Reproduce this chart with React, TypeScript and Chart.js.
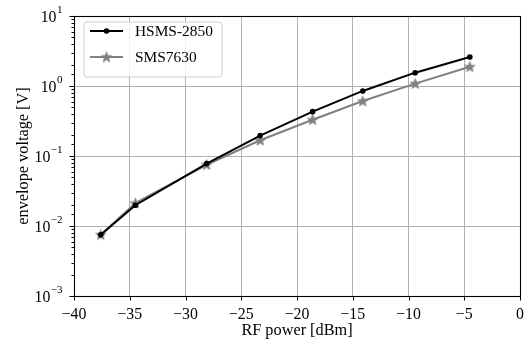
import React, { useEffect, useRef } from 'react';
import { Chart, registerables } from 'chart.js';

Chart.register(...registerables);

// ---- data ----
const rfPower = [-37.6, -34.5, -28.1, -23.3, -18.6, -14.1, -9.4, -4.5];
const hsmsVoltage = [0.0075, 0.0198, 0.078, 0.196, 0.43, 0.85, 1.55, 2.6];
const smsVoltage = [0.0075, 0.0212, 0.075, 0.168, 0.33, 0.61, 1.08, 1.88];
const seriesNames = ['HSMS-2850', 'SMS7630'];
const xTickValues = [-40, -35, -30, -25, -20, -15, -10, -5, 0];
const yMin = 1e-3;
const yMax = 1e1;
const xTitle = 'RF power [dBm]';
const yTitle = 'envelope voltage [V]';

const FONT = '"Liberation Serif", "DejaVu Serif", serif';
const FS_TICK = 15.8;
const FS_EXP = 11;
const FS_TITLE = 16.3;
const FS_LEG = 15.4;
const BLACK = '#000000';
const GRAY = '#808080';

function isDecade(v: number) {
  const l = Math.log10(v);
  return Math.abs(l - Math.round(l)) < 1e-6;
}

function makeStar(color: string, r: number) {
  const size = Math.ceil(r * 2 + 2);
  const c = document.createElement('canvas');
  c.width = size;
  c.height = size;
  const g = c.getContext('2d')!;
  const cx = size / 2;
  const cy = size / 2 + 0.4;
  g.beginPath();
  for (let i = 0; i < 10; i++) {
    const rr = i % 2 === 0 ? r : r * 0.42;
    const ang = -Math.PI / 2 + (i * Math.PI) / 5;
    const px = cx + rr * Math.cos(ang);
    const py = cy + rr * Math.sin(ang);
    if (i === 0) g.moveTo(px, py);
    else g.lineTo(px, py);
  }
  g.closePath();
  g.fillStyle = color;
  g.fill();
  g.strokeStyle = color;
  g.lineWidth = 0.8;
  g.stroke();
  return c;
}

const zeroPad = (s: any) => {
  s.paddingTop = 0;
  s.paddingBottom = 0;
  s.paddingLeft = 0;
  s.paddingRight = 0;
};

const decorPlugin = {
  id: 'decor',
  afterDatasetsDraw(chart: any) {
    const { ctx, chartArea: a, scales } = chart;
    ctx.save();
    ctx.strokeStyle = BLACK;
    ctx.lineWidth = 1;
    const ys = scales.y;
    ys.ticks.forEach((t: any) => {
      const p = Math.round(ys.getPixelForValue(t.value)) + 0.5;
      const major = isDecade(t.value);
      const len = major ? 4.5 : 2.5;
      ctx.beginPath();
      ctx.moveTo(a.left - len, p);
      ctx.lineTo(a.left, p);
      ctx.stroke();
      if (major) {
        const e = Math.round(Math.log10(t.value));
        const expText = e < 0 ? '\u2212' + Math.abs(e) : String(e);
        const right = a.left - 11.5;
        ctx.fillStyle = BLACK;
        ctx.textAlign = 'right';
        ctx.textBaseline = 'middle';
        ctx.font = `${FS_EXP}px ${FONT}`;
        const ew = ctx.measureText(expText).width;
        ctx.fillText(expText, right, p - 6.5);
        ctx.font = `${FS_TICK}px ${FONT}`;
        ctx.fillText('10', right - ew - 0.5, p + 1);
      }
    });
    const xs = scales.x;
    xs.ticks.forEach((t: any) => {
      const p = Math.round(xs.getPixelForValue(t.value)) + 0.5;
      ctx.beginPath();
      ctx.moveTo(p, a.bottom);
      ctx.lineTo(p, a.bottom + 4.5);
      ctx.stroke();
    });
    ctx.lineWidth = 1.1;
    ctx.strokeRect(Math.round(a.left) + 0.5, Math.round(a.top) + 0.5, Math.round(a.right - a.left), Math.round(a.bottom - a.top));

    // legend
    const bx = 84, by = 22, bw = 138, bh = 55, rad = 3;
    ctx.beginPath();
    ctx.moveTo(bx + rad, by);
    ctx.arcTo(bx + bw, by, bx + bw, by + bh, rad);
    ctx.arcTo(bx + bw, by + bh, bx, by + bh, rad);
    ctx.arcTo(bx, by + bh, bx, by, rad);
    ctx.arcTo(bx, by, bx + bw, by, rad);
    ctx.closePath();
    ctx.fillStyle = 'rgba(255,255,255,0.8)';
    ctx.fill();
    ctx.strokeStyle = '#d0d0d0';
    ctx.lineWidth = 1;
    ctx.stroke();

    chart.data.datasets.forEach((d: any, i: number) => {
      const y = 31 + i * 26;
      ctx.strokeStyle = d.borderColor;
      ctx.lineWidth = 2;
      ctx.beginPath();
      ctx.moveTo(90, y);
      ctx.lineTo(123, y);
      ctx.stroke();
      if (typeof d.pointStyle !== 'string') {
        const img = d.pointStyle as HTMLCanvasElement;
        ctx.drawImage(img, 106.5 - img.width / 2, y - img.height / 2);
      } else {
        ctx.fillStyle = d.borderColor;
        ctx.beginPath();
        ctx.arc(106.5, y, 2.8, 0, Math.PI * 2);
        ctx.fill();
      }
      ctx.fillStyle = BLACK;
      ctx.font = `${FS_LEG}px ${FONT}`;
      ctx.textBaseline = 'middle';
      ctx.textAlign = 'left';
      ctx.fillText(d.label, 135, y + 1);
    });
    ctx.restore();
  },
};

export default function App() {
  const ref = useRef<HTMLCanvasElement | null>(null);
  useEffect(() => {
    if (!ref.current) return;
    const star = makeStar(GRAY, 5.5);
    const chart = new Chart(ref.current, {
      type: 'line',
      data: {
        datasets: [
          {
            label: seriesNames[0],
            data: rfPower.map((x, i) => ({ x, y: hsmsVoltage[i] })),
            borderColor: BLACK,
            backgroundColor: BLACK,
            borderWidth: 2,
            pointRadius: 2.8,
            pointBorderWidth: 0,
            pointStyle: 'circle',
          },
          {
            label: seriesNames[1],
            data: rfPower.map((x, i) => ({ x, y: smsVoltage[i] })),
            borderColor: GRAY,
            backgroundColor: GRAY,
            borderWidth: 2,
            pointStyle: star as any,
          },
        ],
      },
      options: {
        responsive: false,
        animation: false,
        layout: { padding: { top: 16, right: 7, left: 0, bottom: 0 } },
        plugins: { legend: { display: false }, tooltip: { enabled: false } },
        scales: {
          x: {
            type: 'linear',
            min: -40,
            max: 0,
            afterBuildTicks: (s: any) => {
              s.ticks = xTickValues.map((v) => ({ value: v }));
            },
            afterFit: (s: any) => {
              s.height = 49;
              zeroPad(s);
            },
            ticks: {
              color: BLACK,
              font: { family: FONT, size: FS_TICK },
              padding: 9,
              maxRotation: 0,
              autoSkip: false,
              callback: (v: any) => (Number(v) < 0 ? '\u2212' + Math.abs(Number(v)) : String(v)),
            },
            grid: { color: '#b0b0b0', lineWidth: 1, drawTicks: false },
            border: { display: false },
            title: {
              display: true,
              text: xTitle,
              color: BLACK,
              font: { family: FONT, size: FS_TITLE },
              padding: { top: 0, bottom: 4 },
            },
          },
          y: {
            type: 'logarithmic',
            min: yMin,
            max: yMax,
            afterFit: (s: any) => {
              s.width = 74;
              zeroPad(s);
            },
            ticks: {
              display: false,
              autoSkip: false,
            },
            grid: {
              color: (c: any) => (c.tick && isDecade(c.tick.value) ? '#b0b0b0' : 'rgba(0,0,0,0)'),
              lineWidth: 1,
              drawTicks: false,
            },
            border: { display: false },
            title: {
              display: true,
              text: yTitle,
              color: BLACK,
              font: { family: FONT, size: FS_TITLE },
              padding: { top: 14, bottom: 0 },
            },
          },
        },
      },
      plugins: [decorPlugin],
    });
    return () => chart.destroy();
  }, []);
  return (
    <div style={{ position: 'fixed', left: 0, top: 0, width: 527, height: 345, background: '#fff' }}>
      <canvas ref={ref} width={527} height={345} style={{ display: 'block' }} />
    </div>
  );
}
